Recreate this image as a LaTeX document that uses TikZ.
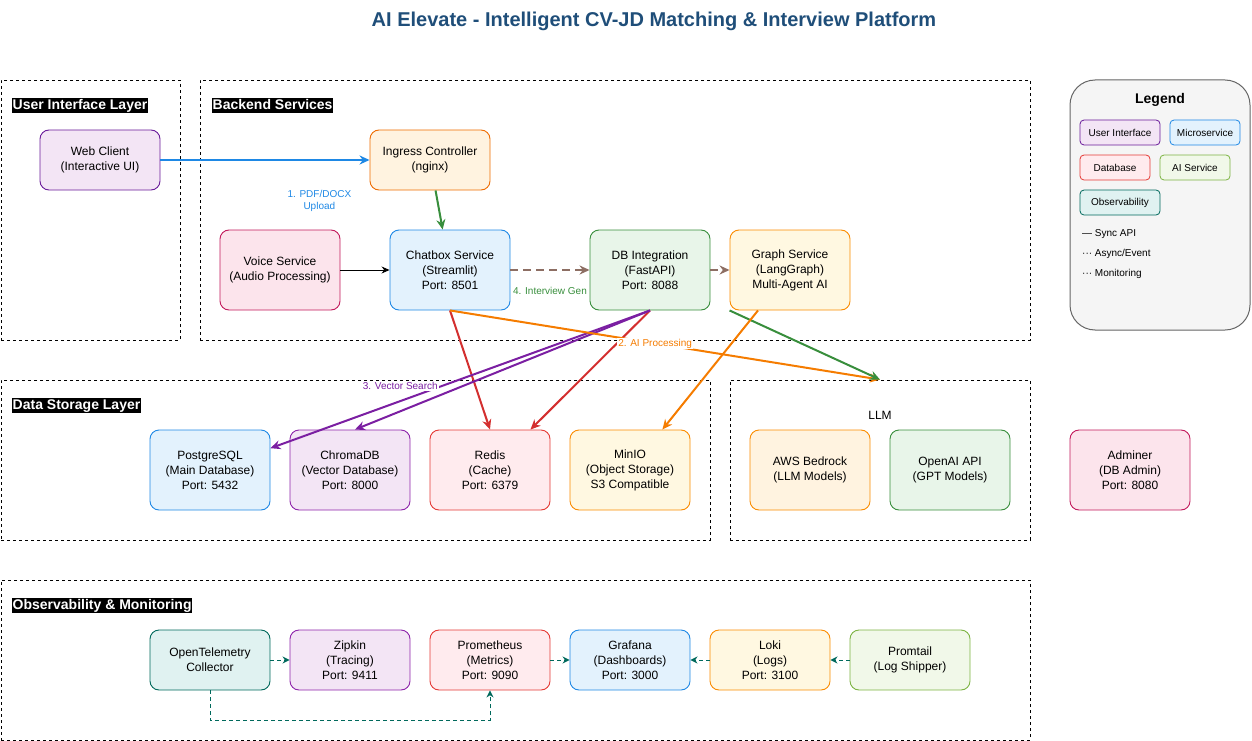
\documentclass[tikz,border=0pt]{standalone}
\usepackage{fontspec}
\setmainfont{Liberation Sans}
\usetikzlibrary{arrows.meta}

\definecolor{titleblue}{HTML}{1F4E79}
\definecolor{uipurple}{HTML}{6A1B9A}
\definecolor{uifill}{HTML}{F3E5F5}
\definecolor{violet8}{HTML}{8E24AA}
\definecolor{violet7}{HTML}{7B1FA2}
\definecolor{blue6}{HTML}{1E88E5}
\definecolor{bluefill}{HTML}{E3F2FD}
\definecolor{orange8}{HTML}{EF6C00}
\definecolor{orangefill}{HTML}{FFF3E0}
\definecolor{orange7}{HTML}{F57C00}
\definecolor{amber8}{HTML}{FB8C00}
\definecolor{amberfill}{HTML}{FFF8E1}
\definecolor{pink7}{HTML}{C2185B}
\definecolor{pinkfill}{HTML}{FCE4EC}
\definecolor{green7}{HTML}{388E3C}
\definecolor{greenfill}{HTML}{E8F5E9}
\definecolor{red6}{HTML}{E53935}
\definecolor{redfill}{HTML}{FFEBEE}
\definecolor{redarrow}{HTML}{D32F2F}
\definecolor{lime6}{HTML}{7CB342}
\definecolor{limefill}{HTML}{F1F8E9}
\definecolor{teal8}{HTML}{00695C}
\definecolor{tealfill}{HTML}{E0F2F1}
\definecolor{brown4}{HTML}{8D6E63}
\definecolor{gray6}{HTML}{666666}
\definecolor{gray96}{HTML}{F5F5F5}

\tikzset{
  box/.style={draw, rounded corners=9pt, minimum width=120pt, minimum height=80pt, align=center, line width=0.9pt, inner sep=2pt, font=\fontsize{12}{15}\selectfont},
  lowbox/.style={box, minimum height=60pt},
  layer/.style={draw, line width=0.8pt, dash pattern=on 3pt off 3pt},
  layertitle/.style={anchor=west, fill=black, text=white, inner xsep=0.5pt, inner ysep=1.5pt, text height=10pt, text depth=2.5pt, font=\fontsize{14}{14}\selectfont\bfseries},
  legitem/.style={draw, rounded corners=4pt, minimum height=25pt, line width=0.8pt, font=\fontsize{10}{12}\selectfont},
  legtext/.style={anchor=west, inner sep=0pt, font=\fontsize{10}{12}\selectfont},
  elabel/.style={align=center, inner sep=1pt, font=\fontsize{10}{12}\selectfont},
  flow/.style={line width=2pt, -{Stealth[length=10pt,width=9pt]}},
  mon/.style={draw=teal8, line width=1pt, dash pattern=on 4pt off 3pt, -{Stealth[length=7pt,width=7pt]}}
}

\begin{document}
\begin{tikzpicture}[x=1pt, y=-1pt]
\useasboundingbox (0,0) rectangle (1252,741);

\node[font=\fontsize{20}{22}\selectfont\bfseries, text=titleblue] (title) at (654,21) {AI Elevate - Intelligent CV-JD Matching \& Interview Platform};

\node[layer, minimum width=179, minimum height=260] (uilayer) at (90.5,210) {};
\node[layer, minimum width=830, minimum height=260] (backend) at (615,210) {};
\node[layer, minimum width=709, minimum height=160] (datalayer) at (355.5,460) {};
\node[layer, minimum width=300, minimum height=160] (llm) at (880,460) {};
\node[layer, minimum width=1029, minimum height=160] (obslayer) at (515.5,660) {};

\node[layertitle] (uititle) at (12,105.5) {User Interface Layer};
\node[layertitle] (backtitle) at (212,105.5) {Backend Services};
\node[layertitle] (datatitle) at (12,405.5) {Data Storage Layer};
\node[layertitle] (obstitle) at (12,605.5) {Observability \& Monitoring};
\node[font=\fontsize{12}{15}\selectfont] (llmtitle) at (880,415) {LLM};

\node[lowbox, draw=uipurple, fill=uifill] (web) at (100,160) {Web Client\\(Interactive UI)};
\node[lowbox, draw=orange8, fill=orangefill] (ingress) at (430,160) {Ingress Controller\\(nginx)};
\node[box, draw=pink7, fill=pinkfill] (voice) at (280,270) {Voice Service\\(Audio Processing)};
\node[box, draw=blue6, fill=bluefill] (chatbox) at (450,270) {Chatbox Service\\(Streamlit)\\Port: 8501};
\node[box, draw=green7, fill=greenfill] (dbint) at (650,270) {DB Integration\\(FastAPI)\\Port: 8088};
\node[box, draw=amber8, fill=amberfill] (graph) at (790,270) {Graph Service\\(LangGraph)\\Multi-Agent AI};

\node[box, draw=blue6, fill=bluefill] (postgres) at (210,470) {PostgreSQL\\(Main Database)\\Port: 5432};
\node[box, draw=violet8, fill=uifill] (chroma) at (350,470) {ChromaDB\\(Vector Database)\\Port: 8000};
\node[box, draw=red6, fill=redfill] (redis) at (490,470) {Redis\\(Cache)\\Port: 6379};
\node[box, draw=amber8, fill=amberfill] (minio) at (630,470) {MinIO\\(Object Storage)\\S3 Compatible};
\node[box, draw=amber8, fill=orangefill] (bedrock) at (810,470) {AWS Bedrock\\(LLM Models)};
\node[box, draw=green7, fill=greenfill] (openai) at (950,470) {OpenAI API\\(GPT Models)};
\node[box, draw=pink7, fill=pinkfill] (adminer) at (1130,470) {Adminer\\(DB Admin)\\Port: 8080};

\node[lowbox, draw=teal8, fill=tealfill] (otel) at (210,660) {OpenTelemetry\\Collector};
\node[lowbox, draw=violet8, fill=uifill] (zipkin) at (350,660) {Zipkin\\(Tracing)\\Port: 9411};
\node[lowbox, draw=red6, fill=redfill] (prom) at (490,660) {Prometheus\\(Metrics)\\Port: 9090};
\node[lowbox, draw=blue6, fill=bluefill] (grafana) at (630,660) {Grafana\\(Dashboards)\\Port: 3000};
\node[lowbox, draw=amber8, fill=amberfill] (loki) at (770,660) {Loki\\(Logs)\\Port: 3100};
\node[lowbox, draw=lime6, fill=limefill] (promtail) at (910,660) {Promtail\\(Log Shipper)};

\draw[flow, draw=blue6] (web) -- (ingress) node[elabel, pos=0.76, yshift=-41pt, text=blue6] {1. PDF/DOCX\\Upload};
\draw[flow, draw=green7] (ingress) -- (chatbox);
\draw[line width=1pt, -{Stealth[length=8pt,width=7pt]}] (voice) -- (chatbox);
\draw[flow, draw=brown4, dash pattern=on 8pt off 5pt] (chatbox) -- (dbint) node[elabel, pos=0.5, yshift=-21pt, text=green7] {4. Interview Gen};
\draw[flow, draw=brown4, dash pattern=on 8pt off 5pt] (dbint) -- (graph);
\draw[flow, draw=redarrow] (chatbox.south) -- (redis.north);
\draw[flow, draw=redarrow] (dbint.south) -- (redis);
\draw[flow, draw=violet7] (dbint.south) -- ([xshift=5pt]chroma.north);
\draw[flow, draw=violet7] (dbint.south) -- (postgres) node[elabel, pos=0.658, yshift=15pt, fill=white, text=violet7] {3. Vector Search};
\draw[flow, draw=orange7] (chatbox.south) -- (llm.north) node[elabel, pos=0.477, fill=white, text=orange7] {2. AI Processing};
\draw[flow, draw=green7] (graph.south west) -- (llm.north);
\draw[flow, draw=orange7] ([xshift=-32pt]graph.south) -- (minio);

\draw[mon] (otel) -- (zipkin);
\draw[mon] (prom) -- (grafana);
\draw[mon] (loki) -- (grafana);
\draw[mon] (promtail) -- (loki);
\draw[mon] (otel.south) -- ++(0,30) -| (prom.south);

\node[draw=gray6, fill=gray96, rounded corners=25pt, minimum width=180, minimum height=250, line width=1pt] (legend) at (1160,205) {};
\node[font=\fontsize{14}{16}\selectfont\bfseries] (legtitle) at (1160,100) {Legend};
\node[legitem, minimum width=80, draw=uipurple, fill=uifill] (legui) at (1120,132.5) {User Interface};
\node[legitem, minimum width=70, draw=blue6, fill=bluefill] (legms) at (1205,132.5) {Microservice};
\node[legitem, minimum width=70, draw=red6, fill=redfill] (legdb) at (1115,167.5) {Database};
\node[legitem, minimum width=70, draw=lime6, fill=limefill] (legai) at (1195,167.5) {AI Service};
\node[legitem, minimum width=80, draw=teal8, fill=tealfill] (legobs) at (1120,202.5) {Observability};
\node[legtext] (legsync) at (1082,234) {— Sync API};
\node[legtext] (legasync) at (1082,254) {··· Async/Event};
\node[legtext] (legmon) at (1082,274) {··· Monitoring};
\end{tikzpicture}
\end{document}
